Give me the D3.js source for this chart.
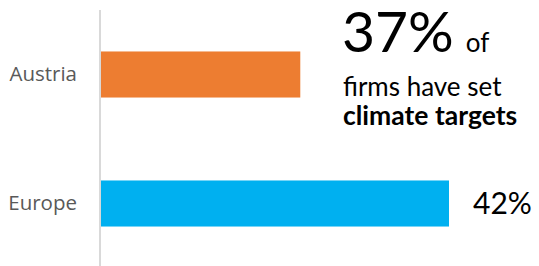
<!DOCTYPE html>
<html>
<head>
<meta charset="utf-8">
<script src="https://d3js.org/d3.v7.min.js"></script>
<style>
  body { margin: 0; background: #fff; }
</style>
</head>
<body>
<div id="chart"></div>
<script>
var width = 539;
var height = 266;

// data
var categories = ["Austria", "Europe"];
var values = [37, 42];
var barColors = ["#ED7D31", "#00B0F0"];
var valueLabels = [null, "42%"];
var headline = "37%";
var headlineTail = "of";
var captionLines = ["firms have set", "climate targets"];

var rows = categories.map(function (c, i) {
  return { cat: c, value: values[i], color: barColors[i], label: valueLabels[i] };
});

var svg = d3.select("#chart")
  .append("svg")
  .attr("width", width)
  .attr("height", height);

var x = d3.scaleLinear()
  .domain([30.3, 42])
  .range([101, 449]);

var y = d3.scaleBand()
  .domain(categories)
  .range([10, 268])
  .paddingInner(0.643)
  .paddingOuter(0.3215);

// bars
svg.append("g")
  .selectAll("rect")
  .data(rows)
  .enter().append("rect")
  .attr("x", x.range()[0])
  .attr("y", function (d) { return y(d.cat); })
  .attr("width", function (d) { return x(d.value) - x.range()[0]; })
  .attr("height", y.bandwidth())
  .attr("fill", function (d) { return d.color; });

// category axis
var yAxis = svg.append("g")
  .attr("transform", "translate(" + (x.range()[0] - 1) + ",0)")
  .call(d3.axisLeft(y).tickSize(0).tickPadding(23));
yAxis.select(".domain")
  .attr("d", "M0," + y.range()[0] + "V" + y.range()[1])
  .attr("stroke", "#d9d9d9")
  .attr("stroke-width", 2);
yAxis.selectAll("text")
  .attr("font-family", "'Open Sans', sans-serif")
  .attr("font-size", 20.5)
  .attr("fill", "#595959");

// value labels
svg.append("g")
  .selectAll("text")
  .data(rows.filter(function (d) { return d.label; }))
  .enter().append("text")
  .attr("x", function (d) { return x(d.value) + 24; })
  .attr("y", function (d) { return y(d.cat) + y.bandwidth() / 2; })
  .attr("dy", "0.35em")
  .attr("font-family", "Lato, sans-serif")
  .attr("font-size", 30)
  .attr("fill", "#000")
  .text(function (d) { return d.label; });

// callout text
var callout = svg.append("g")
  .attr("font-family", "Lato, sans-serif")
  .attr("fill", "#000");

var head = callout.append("text")
  .attr("x", 342)
  .attr("y", 52);
head.append("tspan")
  .attr("font-size", 57)
  .text(headline);
head.append("tspan")
  .attr("dx", 12)
  .attr("font-size", 26)
  .text(headlineTail);

callout.selectAll(".cap")
  .data(captionLines)
  .enter().append("text")
  .attr("class", "cap")
  .attr("x", 343)
  .attr("y", function (d, i) { return 96 + i * 29; })
  .attr("font-size", function (d, i) { return i === 1 ? 26.5 : 26; })
  .attr("font-weight", function (d, i) { return i === 1 ? "bold" : "normal"; })
  .text(function (d) { return d; });
</script>
</body>
</html>
